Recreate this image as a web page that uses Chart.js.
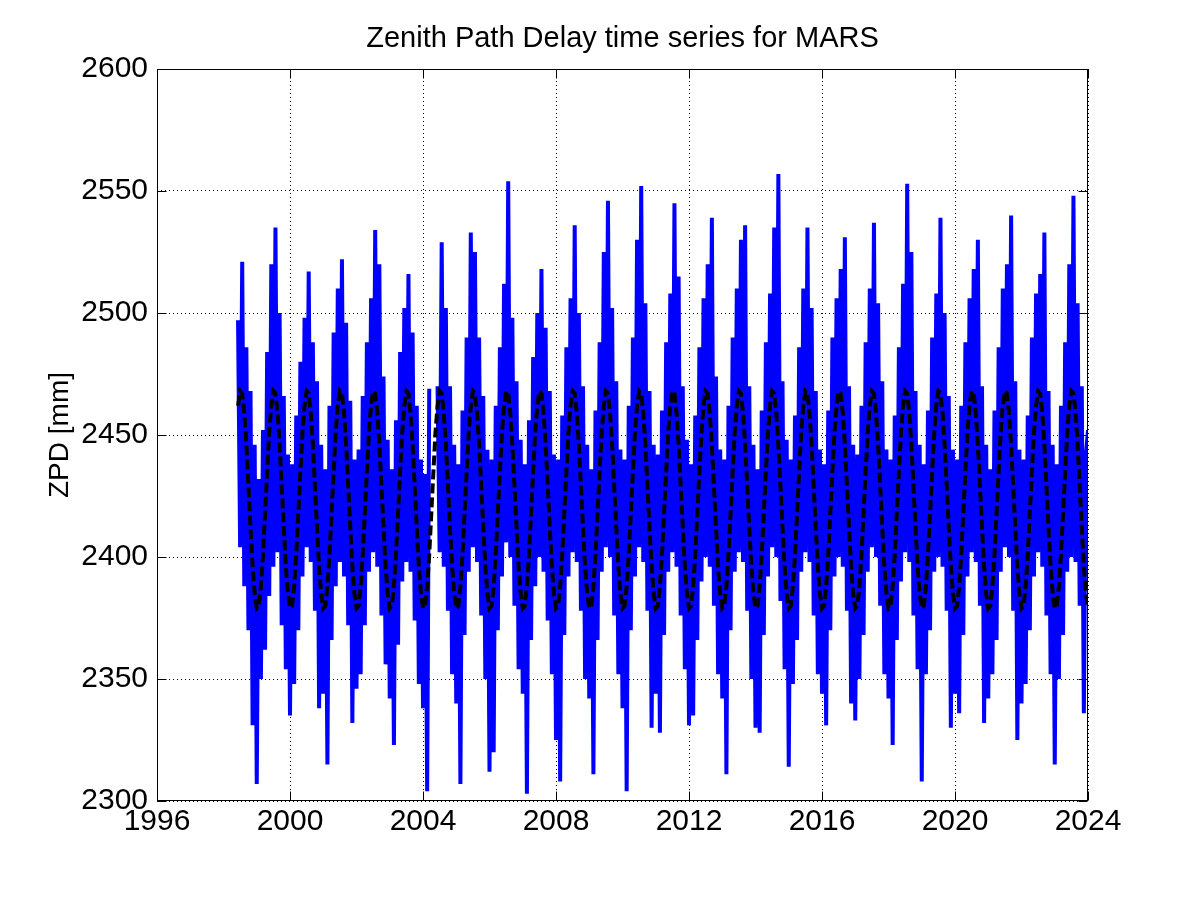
<!DOCTYPE html>
<html>
<head>
<meta charset="utf-8">
<title>Zenith Path Delay time series for MARS</title>
<script src="https://cdn.jsdelivr.net/npm/chart.js@4.4.1/dist/chart.umd.min.js"></script>
<style>
  html, body { margin: 0; padding: 0; background: #fff; }
  #wrap { width: 1201px; height: 901px; }
</style>
</head>
<body>
<div id="wrap"><canvas id="zpdChart" width="1201" height="901"></canvas></div>
<script>
// sampling of the series: 16 epochs per year, first one at 1998 + 7/16
const startYear = 1998;
const firstSample = 7;
const samplesPerYear = 16;

// ZPD [mm], one row per year
const zpd = [
  2497, 2404, 2521, 2388, 2486, 2370, 2468, 2331, 2446,                                   // 1998
  2307, 2432, 2350, 2452, 2362, 2484, 2384, 2520, 2396, 2535, 2402, 2500, 2372, 2466, 2354, 2442, // 1999
  2335, 2438, 2348, 2458, 2370, 2480, 2392, 2498, 2404, 2517, 2398, 2488, 2378, 2472, 2338, 2446, // 2000
  2344, 2436, 2315, 2462, 2366, 2492, 2388, 2510, 2398, 2522, 2392, 2496, 2372, 2464, 2332, 2440, // 2001
  2346, 2444, 2352, 2466, 2372, 2488, 2394, 2506, 2402, 2534, 2396, 2520, 2376, 2474, 2356, 2448, // 2002
  2342, 2436, 2323, 2456, 2364, 2484, 2390, 2502, 2398, 2516, 2394, 2492, 2374, 2462, 2348, 2440, // 2003
  2338, 2434, 2304, 2469, null, null, null, 2470, 2402, 2529, 2396, 2502, 2378, 2470, 2352, 2446, // 2004
  2340, 2438, 2307, 2460, 2368, 2490, 2394, 2533, 2404, 2525, 2398, 2490, 2376, 2466, 2350, 2444, // 2005
  2312, 2440, 2320, 2462, 2370, 2486, 2392, 2512, 2406, 2554, 2400, 2498, 2380, 2472, 2354, 2448, // 2006
  2344, 2438, 2303, 2456, 2366, 2482, 2388, 2500, 2400, 2518, 2394, 2494, 2374, 2468, 2352, 2442, // 2007
  2325, 2440, 2308, 2458, 2368, 2486, 2392, 2506, 2402, 2536, 2398, 2500, 2378, 2470, 2350, 2446, // 2008
  2342, 2436, 2311, 2460, 2366, 2488, 2394, 2525, 2404, 2546, 2400, 2502, 2376, 2472, 2352, 2444, // 2009
  2338, 2440, 2304, 2462, 2370, 2490, 2392, 2530, 2404, 2552, 2398, 2504, 2378, 2468, 2330, 2446, // 2010
  2344, 2442, 2328, 2460, 2368, 2488, 2394, 2508, 2402, 2545, 2396, 2515, 2376, 2470, 2354, 2448, // 2011
  2331, 2438, 2335, 2458, 2366, 2486, 2390, 2506, 2400, 2520, 2396, 2539, 2380, 2474, 2352, 2444, // 2012
  2342, 2440, 2311, 2462, 2370, 2490, 2394, 2510, 2402, 2530, 2398, 2536, 2378, 2470, 2350, 2446, // 2013
  2330, 2436, 2328, 2460, 2368, 2488, 2392, 2508, 2404, 2535, 2400, 2557, 2382, 2472, 2354, 2448, // 2014
  2314, 2440, 2348, 2458, 2366, 2486, 2394, 2510, 2402, 2535, 2398, 2502, 2376, 2468, 2352, 2444, // 2015
  2344, 2438, 2331, 2460, 2370, 2490, 2392, 2506, 2400, 2518, 2396, 2531, 2378, 2470, 2340, 2446, // 2016
  2333, 2442, 2350, 2462, 2368, 2488, 2394, 2510, 2404, 2537, 2400, 2504, 2380, 2472, 2352, 2444, // 2017
  2342, 2440, 2323, 2458, 2366, 2486, 2390, 2512, 2402, 2553, 2398, 2525, 2376, 2468, 2354, 2446, // 2018
  2308, 2438, 2352, 2460, 2370, 2490, 2394, 2508, 2400, 2539, 2396, 2500, 2378, 2466, 2330, 2444, // 2019
  2344, 2440, 2336, 2462, 2368, 2488, 2392, 2506, 2402, 2518, 2398, 2530, 2380, 2470, 2332, 2446, // 2020
  2342, 2436, 2352, 2460, 2366, 2486, 2394, 2510, 2404, 2520, 2400, 2540, 2378, 2472, 2325, 2444, // 2021
  2340, 2440, 2348, 2458, 2370, 2490, 2392, 2508, 2402, 2516, 2396, 2533, 2376, 2468, 2352, 2446, // 2022
  2315, 2438, 2350, 2462, 2368, 2488, 2394, 2520, 2400, 2548, 2398, 2504, 2380, 2470, 2336, 2442, // 2023
  2452                                                                                     // 2024
];

// seasonal model (dashed line), same every year, one value per 1/16 year
const seasonal = [2379, 2380, 2388, 2401, 2418, 2435, 2451, 2462, 2468, 2467, 2459, 2446, 2429, 2412, 2396, 2385];

const xTicks = [1996, 2000, 2004, 2008, 2012, 2016, 2020, 2024];
const yTicks = [2300, 2350, 2400, 2450, 2500, 2550, 2600];

const epoch = i => startYear + (firstSample + i) / samplesPerYear;
const zpdPoints = zpd.map((v, i) => ({ x: epoch(i), y: v }));
const modelPoints = zpd.map((_, i) => ({ x: epoch(i), y: seasonal[(firstSample + i) % samplesPerYear] }));

const FONT = "'Liberation Sans', Arial, Helvetica, sans-serif";
const TICK_LEN = 9;

// matlab style axes box with inward ticks
const axesBox = {
  id: 'axesBox',
  afterDatasetsDraw(chart) {
    const { ctx, chartArea: a, scales } = chart;
    const L = Math.round(a.left) + 0.5, R = Math.round(a.right) - 0.5;
    const T = Math.round(a.top) + 0.5, B = Math.round(a.bottom) - 0.5;
    ctx.save();
    ctx.strokeStyle = '#000';
    ctx.lineWidth = 1;
    ctx.setLineDash([]);
    ctx.strokeRect(L, T, R - L, B - T);
    ctx.beginPath();
    xTicks.forEach(v => {
      const px = Math.round(scales.x.getPixelForValue(v)) + 0.5;
      ctx.moveTo(px, B); ctx.lineTo(px, B - TICK_LEN);
      ctx.moveTo(px, T); ctx.lineTo(px, T + TICK_LEN);
    });
    yTicks.forEach(v => {
      const py = Math.round(scales.y.getPixelForValue(v)) + 0.5;
      ctx.moveTo(L, py); ctx.lineTo(L + TICK_LEN, py);
      ctx.moveTo(R, py); ctx.lineTo(R - TICK_LEN, py);
    });
    ctx.stroke();
    ctx.restore();
  }
};

Chart.defaults.font.family = FONT;
Chart.defaults.color = '#000';

new Chart(document.getElementById('zpdChart'), {
  type: 'line',
  data: {
    datasets: [
      {
        label: 'model',
        data: modelPoints,
        borderColor: '#000',
        borderWidth: 4,
        borderDash: [10, 4],
        pointRadius: 0,
        tension: 0,
        order: 0
      },
      {
        label: 'ZPD',
        data: zpdPoints,
        borderColor: '#0000ff',
        borderWidth: 4,
        borderJoinStyle: 'bevel',
        pointRadius: 0,
        tension: 0,
        spanGaps: false,
        order: 1
      }
    ]
  },
  options: {
    responsive: false,
    animation: false,
    devicePixelRatio: 1,
    layout: { padding: { left: 0, right: 113, top: 0, bottom: 0 } },
    plugins: {
      legend: { display: false },
      tooltip: { enabled: false },
      title: {
        display: true,
        fullSize: false,
        text: 'Zenith Path Delay time series for MARS',
        color: '#000',
        font: { size: 29, weight: 'normal', lineHeight: 1 },
        padding: { top: 24, bottom: 16 }
      }
    },
    scales: {
      x: {
        type: 'linear',
        min: 1996,
        max: 2024,
        afterBuildTicks: s => { s.ticks = xTicks.map(v => ({ value: v })); },
        afterFit: s => { s.height = 100; },
        ticks: {
          autoSkip: false,
          maxRotation: 0,
          padding: 3,
          font: { size: 30 },
          callback: v => String(v)
        },
        grid: { color: '#000', lineWidth: 1, drawTicks: false },
        border: { display: false, dash: [1, 3] }
      },
      y: {
        type: 'linear',
        min: 2300,
        max: 2600,
        afterBuildTicks: s => { s.ticks = yTicks.map(v => ({ value: v })); },
        afterFit: s => { s.width = 157; },
        ticks: {
          autoSkip: false,
          padding: 9,
          font: { size: 30 },
          callback: v => String(v)
        },
        grid: { color: '#000', lineWidth: 1, drawTicks: false },
        border: { display: false, dash: [1, 3] },
        title: {
          display: true,
          text: 'ZPD [mm]',
          color: '#000',
          font: { size: 28 },
          padding: { top: 43, bottom: 0 }
        }
      }
    }
  },
  plugins: [axesBox]
});
</script>
</body>
</html>
